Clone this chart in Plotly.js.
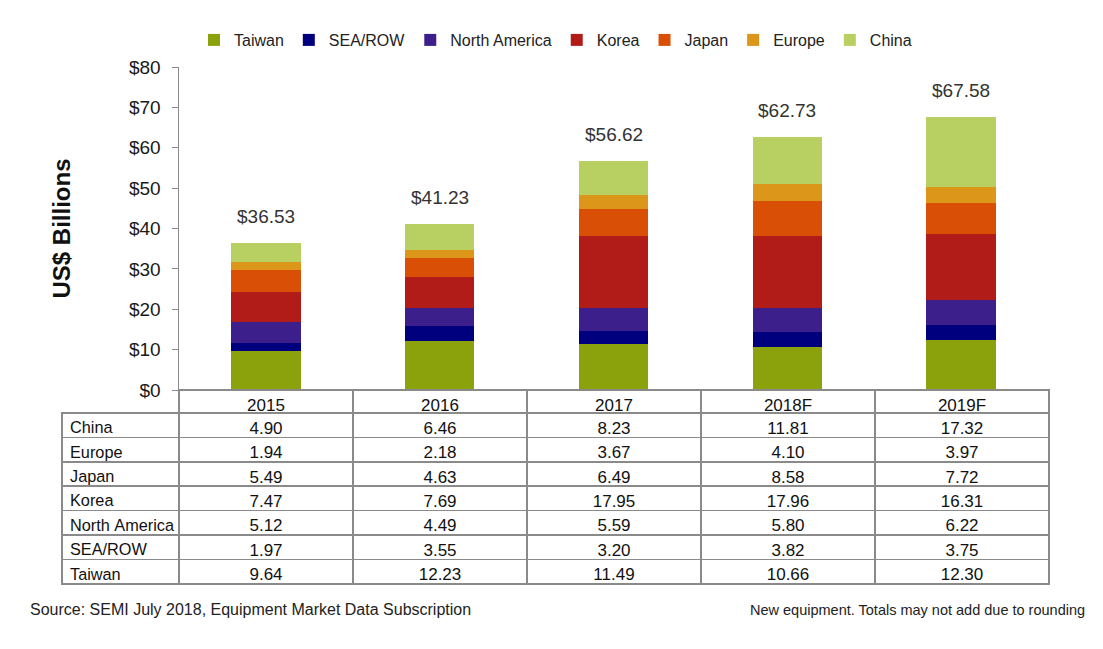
<!DOCTYPE html>
<html>
<head>
<meta charset="utf-8">
<script src="https://cdn.plot.ly/plotly-3.0.1.min.js"></script>
<style>
  html, body { margin: 0; padding: 0; background: #ffffff; }
  #chart { width: 1103px; height: 649px; }
</style>
</head>
<body>
<div id="chart"></div>
<script>
// ---- data ----
const years = ['2015', '2016', '2017', '2018F', '2019F'];
const taiwan = [9.64, 12.23, 11.49, 10.66, 12.30];
const seaRow = [1.97, 3.55, 3.20, 3.82, 3.75];
const northAmerica = [5.12, 4.49, 5.59, 5.80, 6.22];
const korea = [7.47, 7.69, 17.95, 17.96, 16.31];
const japan = [5.49, 4.63, 6.49, 8.58, 7.72];
const europe = [1.94, 2.18, 3.67, 4.10, 3.97];
const china = [4.90, 6.46, 8.23, 11.81, 17.32];
const totals = [36.53, 41.23, 56.62, 62.73, 67.58];
const totalLabels = ['$36.53', '$41.23', '$56.62', '$62.73', '$67.58'];
const tableRowNames = ['China', 'Europe', 'Japan', 'Korea', 'North America', 'SEA/ROW', 'Taiwan'];
const tableRowValues = [china, europe, japan, korea, northAmerica, seaRow, taiwan];

const seriesNames = ['Taiwan', 'SEA/ROW', 'North America', 'Korea', 'Japan', 'Europe', 'China'];
const seriesValues = [taiwan, seaRow, northAmerica, korea, japan, europe, china];
const seriesColors = ['#8ca20c', '#00007f', '#3d1f8c', '#b11c19', '#d94f05', '#dc961a', '#b8d062'];

const FONT = 'Arial, "Liberation Sans", sans-serif';
const W = 1103, H = 649;
const px = v => v / W;          // horizontal pixel -> paper fraction
const py = v => (H - v) / H;    // vertical pixel -> paper fraction

const traces = seriesNames.map((name, i) => ({
  type: 'bar',
  name: name,
  x: years,
  y: seriesValues[i],
  marker: { color: seriesColors[i], line: { width: 0 } },
  hoverinfo: 'skip'
}));

// table below the chart (non-breaking spaces keep row names on one line)
const tableColumns = [tableRowNames.map(s => s.replace(/ /g, '\u00a0'))];
years.forEach((yr, j) => {
  tableColumns.push(tableRowValues.map(row => row[j].toFixed(2)));
});
const GRID = '#8a8a8a';
traces.push({
  type: 'table',
  domain: { x: [px(62), px(1049)], y: [py(586), py(390)] },
  columnwidth: [117, 174, 174, 174, 174, 174],
  header: {
    values: [''].concat(years),
    align: 'center',
    height: 23,
    fill: { color: ['rgba(0,0,0,0)', 'white', 'white', 'white', 'white', 'white'] },
    line: { color: ['rgba(0,0,0,0)', GRID, GRID, GRID, GRID, GRID], width: 1.5 },
    font: { family: FONT, size: 17, color: '#111' }
  },
  cells: {
    values: tableColumns,
    align: ['left', 'center', 'center', 'center', 'center', 'center'],
    height: 24.4,
    fill: { color: 'white' },
    line: { color: GRID, width: 1.5 },
    font: { family: FONT, size: [16.3, 17, 17, 17, 17, 17], color: '#111' }
  }
});

const annotations = years.map((yr, i) => ({
  x: i, y: totals[i], xref: 'x', yref: 'y',
  text: totalLabels[i], showarrow: false,
  yanchor: 'bottom', yshift: 14,
  font: { family: FONT, size: 19, color: '#333' }
}));
annotations.push({
  xref: 'paper', yref: 'paper', x: px(28), y: py(609),
  xanchor: 'left', yanchor: 'middle', showarrow: false,
  text: 'Source: SEMI July 2018, Equipment Market Data Subscription',
  font: { family: FONT, size: 16, color: '#222' }
});
annotations.push({
  xref: 'paper', yref: 'paper', x: px(1087), y: py(610),
  xanchor: 'right', yanchor: 'middle', showarrow: false,
  text: 'New equipment. Totals may not add due to rounding',
  font: { family: FONT, size: 14.5, color: '#222' }
});

const layout = {
  width: W, height: H,
  margin: { l: 0, r: 0, t: 0, b: 0 },
  paper_bgcolor: 'white', plot_bgcolor: 'white',
  barmode: 'stack',
  bargap: 0.6,
  font: { family: FONT, color: '#222' },
  showlegend: true,
  legend: {
    orientation: 'h', traceorder: 'normal',
    x: px(194), xanchor: 'left', y: py(40), yanchor: 'middle',
    font: { family: FONT, size: 16, color: '#222' },
    itemclick: false
  },
  xaxis: {
    type: 'category',
    domain: [px(179), px(1048)],
    range: [-0.5, years.length - 0.5],
    showticklabels: false,
    showline: true, linecolor: GRID, linewidth: 1.5,
    ticks: '', showgrid: false, zeroline: false, fixedrange: true
  },
  yaxis: {
    domain: [py(390), py(67)],
    range: [0, 80], dtick: 10, tickprefix: '$',
    showline: true, linecolor: GRID, linewidth: 1.5,
    ticks: 'outside', ticklen: 6, tickcolor: GRID,
    ticklabelstandoff: 7,
    showgrid: false, zeroline: false,
    tickfont: { family: FONT, size: 19, color: '#1a1a1a' },
    title: { text: '<b>US$ Billions</b>', standoff: 51, font: { family: FONT, size: 24, color: '#111' } },
    fixedrange: true
  },
  annotations: annotations
};

Plotly.newPlot('chart', traces, layout, { displayModeBar: false, staticPlot: true });
</script>
</body>
</html>
